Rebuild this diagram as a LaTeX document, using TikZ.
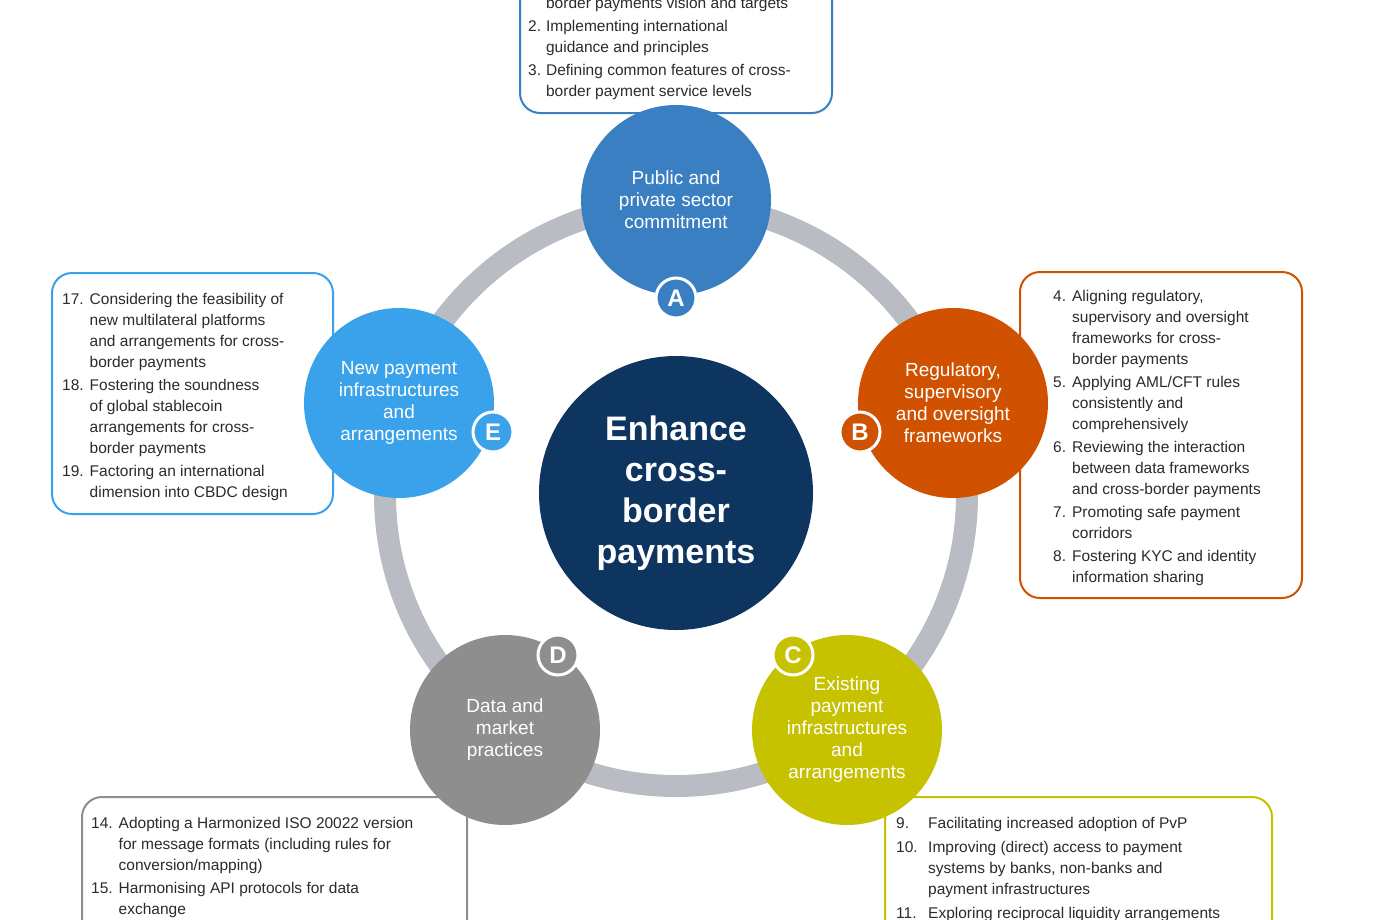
\documentclass[tikz,border=0pt]{standalone}
\usepackage{fontspec}
\setmainfont{Liberation Sans}
\definecolor{cA}{HTML}{3A7FC1}
\definecolor{cB}{HTML}{D05200}
\definecolor{cC}{HTML}{C6C200}
\definecolor{cD}{HTML}{8E8E8E}
\definecolor{cE}{HTML}{3AA2EA}
\definecolor{cM}{HTML}{0E3560}
\definecolor{ring}{HTML}{B9BCC3}
\definecolor{txt}{HTML}{2B2B2B}
\tikzset{
 big/.style={circle,minimum size=190pt,inner sep=0pt,text=white,align=center,font=\fontsize{19}{22}\selectfont},
 badge/.style={circle,minimum size=40pt,inner sep=0pt,draw=white,line width=3pt,text=white,font=\fontsize{24}{24}\selectfont\bfseries},
 lbox/.style={rounded corners=20pt,line width=2pt,fill=white},
 ltext/.style={anchor=base west,inner sep=0pt,text=txt,font=\fontsize{15.5}{21}\selectfont}
}
\begin{document}
\begin{tikzpicture}[x=1pt,y=-1pt]
\useasboundingbox (0,0) rectangle (1393,919);
\clip (0,0) rectangle (1393,919);
\fill[white] (0,0) rectangle (1393,919);
\draw[ring,line width=22pt] (676,495) circle (291);
% boxes
\draw[lbox,draw=cA] (520,-30) rectangle (832,113);
\draw[lbox,draw=cE] (52,273) rectangle (333,514);
\draw[lbox,draw=cB] (1020,272) rectangle (1302,598);
\draw[lbox,draw=cD] (82,797) rectangle (467,960);
\draw[lbox,draw=cC] (885,797) rectangle (1272,960);
\node[circle,fill=cM,minimum size=274pt,inner sep=0pt,text=white,align=center,font=\fontsize{34}{41}\selectfont\bfseries] (M) at (676,493) {Enhance\\cross-\\border\\payments};
\node[big,fill=cA] (A) at (676,200) {Public and\\private sector\\commitment};
\node[big,fill=cB] (B) at (953,403) {Regulatory,\\supervisory\\and oversight\\frameworks};
\node[big,fill=cC] (C) at (847,730) {Existing\\payment\\infrastructures\\and\\arrangements};
\node[big,fill=cD] (D) at (505,730) {Data and\\market\\practices};
\node[big,fill=cE] (E) at (399,403) {New payment\\infrastructures\\and\\arrangements};
\node[badge,fill=cA] (bA) at (676,298) {A};
\node[badge,fill=cB] (bB) at (860,432) {B};
\node[badge,fill=cC] (bC) at (793,655) {C};
\node[badge,fill=cD] (bD) at (558,655) {D};
\node[badge,fill=cE] (bE) at (493,432) {E};
\node[ltext] (tA) at (528,8) {\begin{tabular}[t]{@{}l@{\hspace{5pt}}l@{}}
 & border payments vision and targets\\[2pt]
2. & Implementing international\\ & guidance and principles\\[2pt]
3. & Defining common features of cross-\\ & border payment service levels
\end{tabular}};
\node[ltext] (tE) at (62,304) {\begin{tabular}[t]{@{}l@{\hspace{6pt}}l@{}}
17. & Considering the feasibility of\\ & new multilateral platforms\\ & and arrangements for cross-\\ & border payments\\[2pt]
18. & Fostering the soundness\\ & of global stablecoin\\ & arrangements for cross-\\ & border payments\\[2pt]
19. & Factoring an international\\ & dimension into CBDC design
\end{tabular}};
\node[ltext] (tB) at (1053,301) {\begin{tabular}[t]{@{}l@{\hspace{6pt}}l@{}}
4. & Aligning regulatory,\\ & supervisory and oversight\\ & frameworks for cross-\\ & border payments\\[2pt]
5. & Applying AML/CFT rules\\ & consistently and\\ & comprehensively\\[2pt]
6. & Reviewing the interaction\\ & between data frameworks\\ & and cross-border payments\\[2pt]
7. & Promoting safe payment\\ & corridors\\[2pt]
8. & Fostering KYC and identity\\ & information sharing
\end{tabular}};
\node[ltext] (tD) at (91,828) {\begin{tabular}[t]{@{}l@{\hspace{6pt}}l@{}}
14. & Adopting a Harmonized ISO 20022 version\\ & for message formats (including rules for\\ & conversion/mapping)\\[2pt]
15. & Harmonising API protocols for data\\ & exchange
\end{tabular}};
\node[ltext] (tC) at (896,828) {\begin{tabular}[t]{@{}p{26pt}@{\hspace{6pt}}l@{}}
9. & Facilitating increased adoption of PvP\\[3pt]
10. & Improving (direct) access to payment\\ & systems by banks, non-banks and\\ & payment infrastructures\\[3pt]
11. & Exploring reciprocal liquidity arrangements
\end{tabular}};
\end{tikzpicture}
\end{document}
